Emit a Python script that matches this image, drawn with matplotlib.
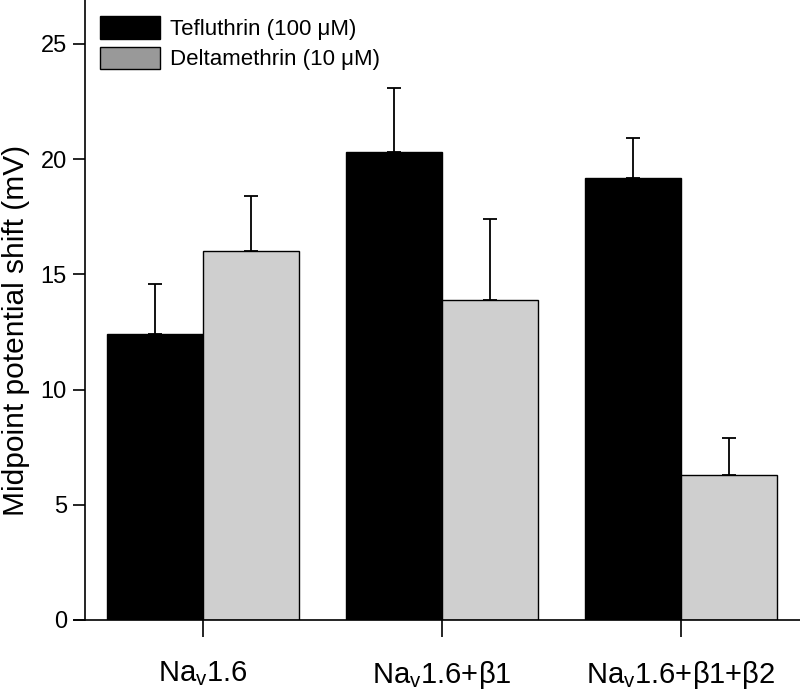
import numpy as np
import matplotlib
matplotlib.use("Agg")
import matplotlib.pyplot as plt
from matplotlib.patches import Patch

plt.rcParams['font.family'] = ['Liberation Sans', 'DejaVu Sans']
plt.rcParams['mathtext.fontset'] = 'custom'
plt.rcParams['mathtext.rm'] = 'Liberation Sans'

# data
groups = [r'Na$_\mathrm{v}$1.6', r'Na$_\mathrm{v}$1.6+β1', r'Na$_\mathrm{v}$1.6+β1+β2']
teflu_mean = [12.4, 20.3, 19.2]
teflu_err = [2.2, 2.8, 1.7]
delta_mean = [16.0, 13.9, 6.3]
delta_err = [2.4, 3.5, 1.6]
series_labels = ['Tefluthrin (100 μM)', 'Deltamethrin (10 μM)']

fig = plt.figure(figsize=(8, 6.91), dpi=100)
ax = fig.add_axes([85 / 800, 1 - 620 / 691, 715 / 800, 620 / 691])

x = np.arange(len(groups))
w = 0.4
err_kw = dict(ecolor='black', elinewidth=1.3, capsize=5, capthick=1.3)
ax.bar(x - w / 2, teflu_mean, w, color='black', edgecolor='black', linewidth=1,
       yerr=[np.zeros(3), teflu_err], error_kw=err_kw, zorder=2)
ax.bar(x + w / 2, delta_mean, w, color='#cfcfcf', edgecolor='black', linewidth=1,
       yerr=[np.zeros(3), delta_err], error_kw=err_kw, zorder=2)

ax.set_xlim(-0.494, 2.498)
ax.set_ylim(0, 620 / 23.04)
ax.set_yticks([0, 5, 10, 15, 20, 25])
ax.set_xticks(x)
ax.set_xticklabels(groups, fontsize=21)
ax.tick_params(axis='y', labelsize=17, length=9, width=1.2, pad=4)
ax.tick_params(axis='x', length=12, width=1.2, pad=16)
ax.spines['top'].set_visible(False)
ax.spines['right'].set_visible(False)
ax.spines['left'].set_linewidth(1.2)
ax.spines['bottom'].set_linewidth(1.2)
ax.spines['bottom'].set_bounds(-0.494 - 11 / 239, 2.498)
ax.set_ylabel('Midpoint potential shift (mV)', fontsize=21.5)
ax.yaxis.set_label_coords(-55 / 715, (620 - 330) / 620)

handles = [Patch(facecolor='black', edgecolor='black'),
           Patch(facecolor='#999999', edgecolor='black')]
ax.legend(handles, series_labels, loc='upper left', frameon=False, fontsize=16,
          bbox_to_anchor=(15 / 715, 1 - 16 / 620), borderaxespad=0, borderpad=0,
          handlelength=2.7, handleheight=1.2, handletextpad=0.45, labelspacing=0.3)

fig.savefig('out.png', dpi=100)
